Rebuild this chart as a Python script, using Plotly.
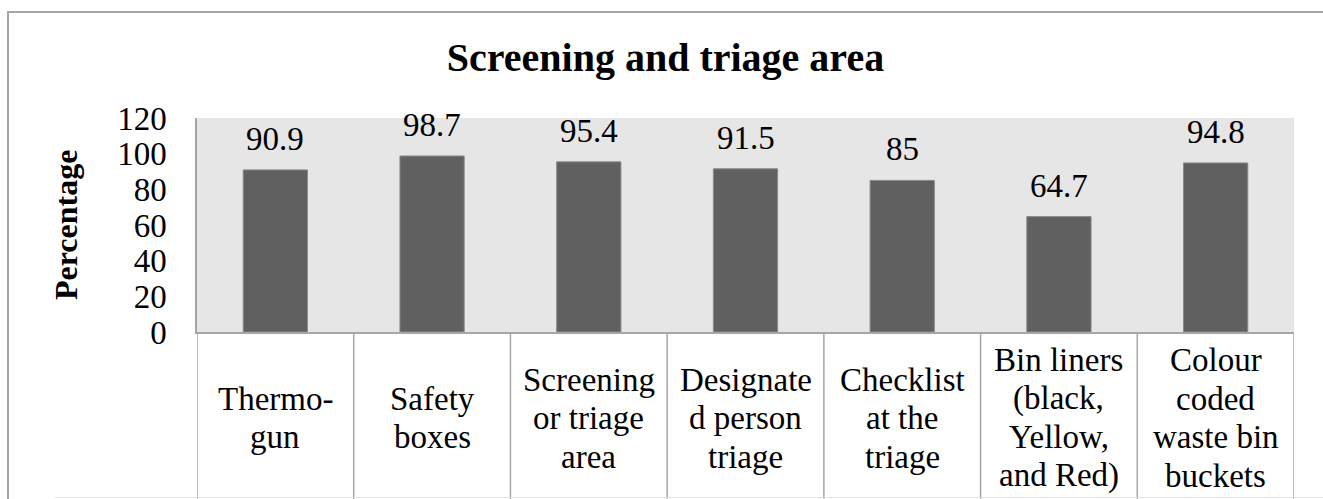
import plotly.graph_objects as go

categories = [
    "Thermo-<br>gun",
    "Safety<br>boxes",
    "Screening<br>or triage<br>area",
    "Designate<br>d person<br>triage",
    "Checklist<br>at the<br>triage",
    "Bin liners<br>(black,<br>Yellow,<br>and Red)",
    "Colour<br>coded<br>waste bin<br>buckets",
]
values = [90.9, 98.7, 95.4, 91.5, 85, 64.7, 94.8]
value_labels = ["90.9", "98.7", "95.4", "91.5", "85", "64.7", "94.8"]
y_ticks = [0, 20, 40, 60, 80, 100, 120]

FONT = "Liberation Serif, Times New Roman, serif"
W, H = 1323, 499
L, R, T, B = 197, 29, 118, 167
PH = H - T - B  # plot height in px


def py(pix):
    """pixel y -> paper y"""
    return (H - B - pix) / PH


def px(pix):
    return (pix - L) / (W - L - R)


xs = list(range(len(categories)))

fig = go.Figure()
fig.add_trace(go.Bar(
    x=xs, y=values,
    marker=dict(color="#606060", line=dict(color="#8a8a8a", width=1)),
    hoverinfo="skip",
))

annotations = []
# value labels
for x, v, t in zip(xs, values, value_labels):
    annotations.append(dict(
        x=x, y=v, xref="x", yref="y", text=t, showarrow=False,
        yanchor="bottom", xanchor="center", yshift=11,
        font=dict(family=FONT, size=33, color="#000000"),
    ))

# category labels in table cells
LINE = 38.5
CENTER = 418
for x, cat in zip(xs, categories):
    lines = cat.split("<br>")
    n = len(lines)
    for i, ln in enumerate(lines):
        yc = CENTER + (i - (n - 1) / 2) * LINE
        annotations.append(dict(
            x=x, y=py(yc), xref="x", yref="paper", text=ln, showarrow=False,
            yanchor="middle", xanchor="center",
            font=dict(family=FONT, size=33, color="#000000"),
        ))

# y-axis title
annotations.append(dict(
    x=px(66), y=0.5, xref="paper", yref="paper", text="<b>Percentage</b>",
    showarrow=False, textangle=-90, xanchor="center", yanchor="middle",
    font=dict(family=FONT, size=32, color="#000000"),
))

shapes = []
# table vertical lines
for k in range(len(categories) + 1):
    shapes.append(dict(
        type="line", xref="x", yref="paper", x0=k - 0.5, x1=k - 0.5,
        y0=0, y1=py(520), line=dict(color="#a6a6a6", width=1.5), layer="above",
    ))
# outer border (left + top)
shapes.append(dict(
    type="line", xref="paper", yref="paper", x0=px(8), x1=px(8),
    y0=py(12), y1=py(520), line=dict(color="#a6a6a6", width=2),
))
shapes.append(dict(
    type="line", xref="paper", yref="paper", x0=px(7), x1=px(1340),
    y0=py(12), y1=py(12), line=dict(color="#a6a6a6", width=2),
))
# faint bottom line
shapes.append(dict(
    type="line", xref="paper", yref="paper", x0=px(55), x1=px(1340),
    y0=py(497.5), y1=py(497.5), line=dict(color="#e2e2e2", width=1),
))

fig.update_layout(
    width=W, height=H,
    margin=dict(l=L, r=R, t=T, b=B, pad=0),
    paper_bgcolor="white",
    plot_bgcolor="#e6e6e6",
    showlegend=False,
    bargap=0.59,
    title=dict(
        text="<b>Screening and triage area</b>",
        x=0.503, xref="container", xanchor="center",
        y=1 - 56.5 / H, yref="container", yanchor="middle",
        font=dict(family=FONT, size=40, color="#000000"),
    ),
    xaxis=dict(
        range=[-0.5, len(categories) - 0.5],
        showticklabels=False, ticks="", showgrid=False, zeroline=False,
        showline=True, linecolor="#a6a6a6", linewidth=1.5,
        fixedrange=True,
    ),
    yaxis=dict(
        range=[0, 120], tickvals=y_ticks, ticktext=[str(v) for v in y_ticks],
        showgrid=False, zeroline=False, ticks="",
        showline=True, linecolor="#a6a6a6", linewidth=1.5,
        ticklabelstandoff=22,
        tickfont=dict(family=FONT, size=33, color="#000000"),
        fixedrange=True,
    ),
    annotations=annotations,
    shapes=shapes,
)

fig.write_html(
    "out.html",
    config={"displayModeBar": False},
    post_script="document.body.style.margin='0';document.body.style.overflow='hidden';",
)
